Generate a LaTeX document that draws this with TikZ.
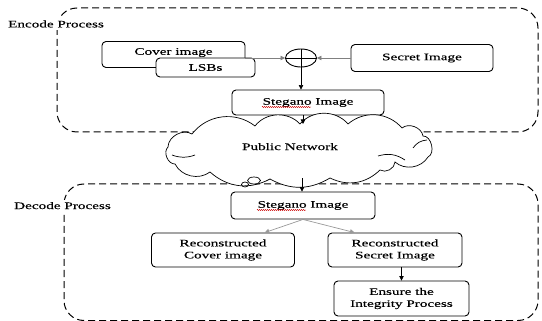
\documentclass[tikz,border=0pt]{standalone}
\usepackage{fontspec}
\setmainfont{Liberation Serif}[FakeStretch=1.52,FakeBold=0.3]
\usepackage{tikz}
\usetikzlibrary{shapes.geometric,arrows.meta,positioning,calc,decorations.pathmorphing}
\begin{document}
\begin{tikzpicture}[x=1pt,y=-1pt,
  font=\fontsize{10}{12}\selectfont,
  blk/.style={draw=black,fill=white,rounded corners=4pt,line width=0.9pt,
              inner sep=1pt,align=center},
  grp/.style={draw=black,line width=1pt,dash pattern=on 7pt off 4pt,rounded corners=20pt},
  lbl/.style={fill=white,inner sep=2pt},
  cld/.style={draw=black,line width=0.7pt},
  squig/.style={draw=red!80!black,line width=0.4pt,
                decorate,decoration={snake,amplitude=0.6pt,segment length=2pt}},
  arr/.style={-{Triangle[length=4.5pt,width=4.5pt]},line width=0.7pt},
]
\useasboundingbox (0,0) rectangle (542,321);
% group frames
\draw[grp] (57,8) rectangle (538,132);
\draw[grp] (64,184) rectangle (538,320.5);
\node[lbl] (enc) at (56,24) {Encode Process};
\node[lbl] (dec) at (62.5,205.6) {Decode Process};
% encode part
\node[blk,minimum width=143pt,minimum height=26pt] (cover) at (173.5,54.5) {\raisebox{6pt}{Cover image}};
\node[blk,minimum width=99pt,minimum height=19pt] (lsb) at (205.5,67.5) {LSBs};
\node[draw,ellipse,line width=0.9pt,minimum width=31pt,minimum height=18pt,inner sep=0pt] (plus) at (301,58) {};
\draw[line width=0.7pt] (plus.north) -- (plus.south) (plus.west) -- (plus.east);
\node[blk,minimum width=142pt,minimum height=27pt] (secret) at (422,58) {Secret Image};
\node[blk,minimum width=152pt,minimum height=25pt] (stegA) at (308,102.5) {Stegano Image};
\draw[squig] ($(stegA.center)+(-46,4.5)$) -- ($(stegA.center)+(3,4.5)$);
% network cloud
\fill[white] (168,147) to[bend left=60] (192,134) to[bend left=45] (255,126)
  to[bend left=50] (300,124) to[bend left=50] (348,124) to[bend left=45] (402,128)
  to[bend left=60] (423,136) to[bend left=80] (428,157) to[bend left=50] (395,162)
  to[bend left=60] (380,170) to[bend left=35] (330,178) to[bend left=30] (270,179)
  to[bend left=35] (210,172) to[bend left=50] (175,164) to[bend left=70] cycle;
\draw[cld] (168,147) to[bend left=60] (192,134) to[bend left=45] (255,126)
  to[bend left=50] (300,124) to[bend left=50] (348,124) to[bend left=45] (402,128)
  to[bend left=60] (423,136) to[bend left=80] (428,157) to[bend left=50] (395,162)
  to[bend left=60] (380,170) to[bend left=35] (330,178) to[bend left=30] (270,179)
  to[bend left=35] (210,172) to[bend left=50] (175,164) to[bend left=70] cycle;
\draw[cld] (172,155) to[bend right=20] (195,155);
\draw[cld] (413,148) to[bend left=25] (427,140);
\draw[cld] (378,156) to[bend left=25] (405,160);
\node (net) at (290,146.6) {Public Network};
\coordinate (netTop) at (303,124);
\coordinate (netBot) at (302,178.5);
\node[draw,ellipse,line width=0.7pt,minimum width=13pt,minimum height=7pt,inner sep=0pt] (bubA) at (254,180.5) {};
\node[draw,ellipse,line width=0.7pt,minimum width=7pt,minimum height=5pt,inner sep=0pt] (bubB) at (245,184.5) {};
% decode part
\node[blk,minimum width=144pt,minimum height=27pt] (stegB) at (303,205.5) {Stegano Image};
\draw[squig] ($(stegB.center)+(-46,4.5)$) -- ($(stegB.center)+(3,4.5)$);
\node[blk,minimum width=143pt,minimum height=34pt] (rcover) at (223,250) {Reconstructed\\Cover image};
\node[blk,minimum width=134pt,minimum height=34pt] (rsecret) at (395,250) {Reconstructed\\Secret Image};
\node[blk,minimum width=135pt,minimum height=35pt] (ensure) at (401.5,298.5) {Ensure the\\Integrity Process};
% connectors
\draw[arr,gray] (cover.east |- plus) -- (plus.west);
\draw[arr,gray] (secret.west) -- (plus.east);
\draw[arr] (plus.south) -- (plus.south |- stegA.north);
\draw[arr] (stegA.south -| netTop) -- (netTop);
\draw[arr] (netBot) -- (netBot |- stegB.north);
\draw[arr,gray!80] (stegB.south) -- ($(rcover.north)!0.58!(rcover.north east)$);
\draw[arr,gray!80] (stegB.south) -- ($(rsecret.north west)!0.2!(rsecret.north east)$);
\draw[arr] (rsecret.south -| ensure) -- (ensure.north);
\end{tikzpicture}
\end{document}
